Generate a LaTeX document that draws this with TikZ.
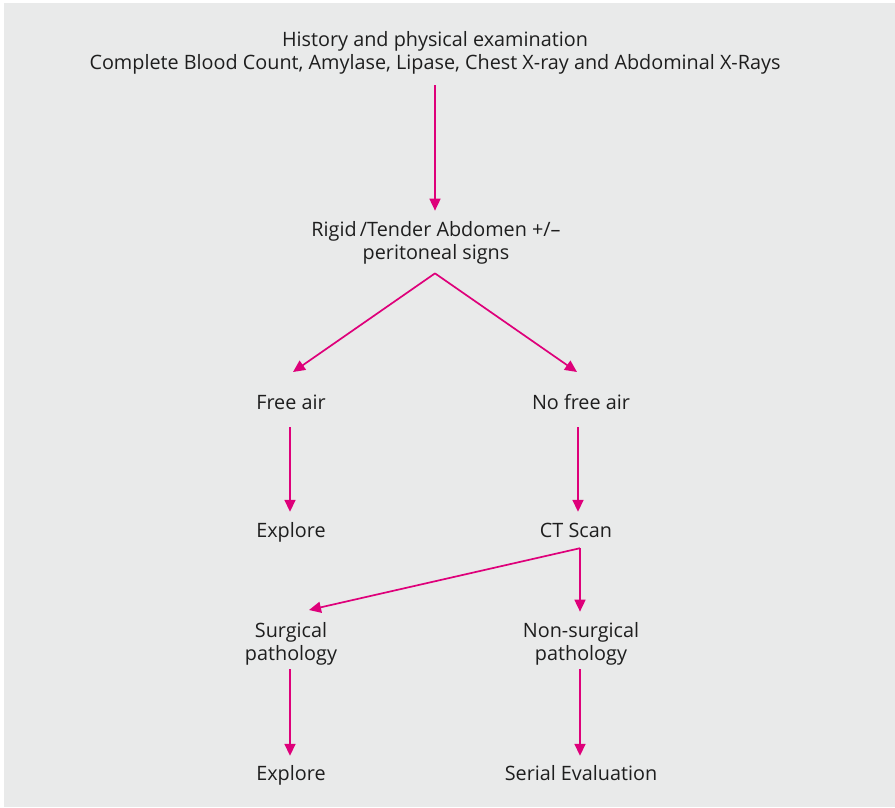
\documentclass[tikz,border=0pt]{standalone}
\usepackage{fontspec}
\setmainfont{Open Sans}
\usepackage{tikz}
\usetikzlibrary{calc,positioning,arrows.meta}
\definecolor{magentaLine}{RGB}{222,0,122}
\definecolor{grisBg}{RGB}{233,234,234}
\definecolor{textoGris}{RGB}{30,30,30}
\tikzset{
  paso/.style={font=\fontsize{19.8}{22.5}\selectfont, text=textoGris,
    align=center, inner sep=0pt},
  uno/.style={text height=15pt, text depth=5pt},
  flecha/.style={draw=magentaLine, line width=1.7pt,
    -{Triangle[length=12pt,width=11pt]}}
}
\begin{document}
\begin{tikzpicture}[x=1pt,y=-1pt]
  % Background
  \useasboundingbox (0,0) rectangle (895,807);
  \fill[white] (0,0) rectangle (895,807);
  \fill[grisBg] (4,3) rectangle (895,807);
  % Nodes
  \node[paso] (hist) at (435,53)
    {History and physical examination\\Complete Blood Count, Amylase, Lipase, Chest X-ray and Abdominal X-Rays};
  \node[paso] (rigid) at (436,243)
    {Rigid\,/Tender Abdomen +/--\\peritoneal signs};
  \node[paso, uno] (free) at (291,404) {Free air};
  \node[paso, uno] (nofree) at (581,404) {No free air};
  \node[paso, uno] (explA) at (291,532) {Explore};
  \node[paso, uno] (ct) at (576,532) {CT Scan};
  \node[paso] (surg) at (291,644) {Surgical\\pathology};
  \node[paso] (nonsurg) at (581,644) {Non-surgical\\pathology};
  \node[paso, uno] (explB) at (291,775) {Explore};
  \node[paso, uno] (serial) at (581,775) {Serial Evaluation};
  % Branch points and arrow ends
  \coordinate (vRigid) at ($(rigid.south)+(-1,9)$);
  \coordinate (vCT) at ($(ct.south)+(4,6)$);
  \coordinate (tipFree) at (293,372);
  \coordinate (tipNoFree) at (577,372);
  \coordinate (tipSurg) at (309,610);
  % Arrows
  \draw[flecha, shorten <=11pt, shorten >=11pt] (hist.south -| vRigid) -- (rigid.north -| vRigid);
  \draw[flecha] (vRigid) -- (tipFree);
  \draw[flecha] (vRigid) -- (tipNoFree);
  \draw[flecha, shorten <=13pt, shorten >=10pt] (free.south -| 290,0) -- (explA.north -| 290,0);
  \draw[flecha, shorten <=13pt, shorten >=10pt] (nofree.south -| 578,0) -- (ct.north -| 578,0);
  \draw[flecha] (vCT) -- (tipSurg);
  \draw[flecha, shorten >=11pt] (vCT) -- (nonsurg.north -| vCT);
  \draw[flecha, shorten <=4pt, shorten >=9pt] (surg.south -| 290,0) -- (explB.north -| 290,0);
  \draw[flecha, shorten <=4pt, shorten >=9pt] (nonsurg.south -| 580,0) -- (serial.north -| 580,0);
\end{tikzpicture}
\end{document}
